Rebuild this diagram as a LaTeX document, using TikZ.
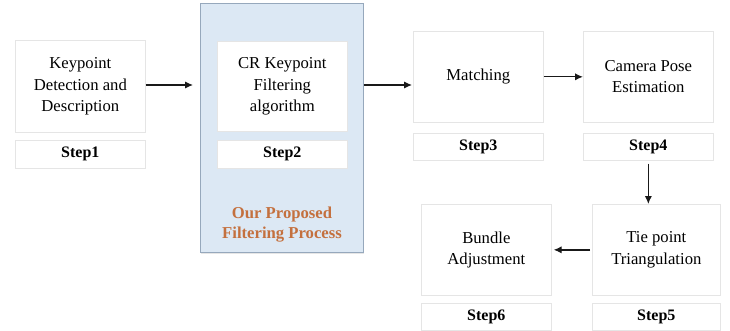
\documentclass[tikz,border=0pt]{standalone}
\usepackage{fontspec}
\setmainfont{Liberation Serif}
\usetikzlibrary{arrows.meta,shadows}
\definecolor{procfill}{RGB}{220,232,244}
\definecolor{procedge}{RGB}{150,168,188}
\definecolor{procText}{RGB}{196,112,62}
\tikzset{
  card/.style={draw=black!10, fill=white, line width=0.5pt,
    drop shadow={shadow xshift=0.6pt, shadow yshift=-0.8pt, opacity=0.25, fill=black!40}},
  stagebox/.style={card, anchor=north west, align=center,
    font=\fontsize{12.5}{16}\selectfont, inner sep=0pt},
  steplabel/.style={card, anchor=north west, align=center,
    font=\fontsize{12}{14}\selectfont\bfseries, inner sep=0pt},
  flow/.style={-{Latex[length=6pt,width=5.5pt]}, line width=1pt, black!90}
}
\begin{document}
\begin{tikzpicture}[x=0.75pt,y=-0.75pt]
\useasboundingbox (0,0) rectangle (730,331);

% highlighted filtering stage
\node[draw=procedge, fill=procfill, line width=0.7pt, anchor=north west,
  minimum width=163*0.75pt, minimum height=249*0.75pt, inner sep=0pt,
  drop shadow={shadow xshift=0.6pt, shadow yshift=-0.8pt, opacity=0.2}] (proc) at (200,3) {};
\node[text=procText, font=\fontsize{12.5}{15}\selectfont\bfseries, align=center]
  (proctxt) at (282,225) {Our Proposed\\Filtering Process};

% stage boxes
\node[stagebox, minimum width=130*0.75pt, minimum height=92*0.75pt] (s1) at (15,40)
  {Keypoint\\Detection and\\Description};
\node[steplabel, minimum width=130*0.75pt, minimum height=28*0.75pt] (l1) at (15,140) {Step1};

\node[stagebox, minimum width=130*0.75pt, minimum height=90*0.75pt] (s2) at (217,41)
  {CR Keypoint\\Filtering\\algorithm};
\node[steplabel, minimum width=130*0.75pt, minimum height=28*0.75pt] (l2) at (217,140) {Step2};

\node[stagebox, minimum width=130*0.75pt, minimum height=91*0.75pt] (s3) at (413,31)
  {Matching};
\node[steplabel, minimum width=130*0.75pt, minimum height=27*0.75pt] (l3) at (413,133) {Step3};

\node[stagebox, minimum width=130*0.75pt, minimum height=91*0.75pt] (s4) at (583,31)
  {Camera Pose\\Estimation};
\node[steplabel, minimum width=130*0.75pt, minimum height=27*0.75pt] (l4) at (583,133) {Step4};

\node[stagebox, minimum width=128*0.75pt, minimum height=91*0.75pt] (s5) at (592,204)
  {Tie point\\Triangulation};
\node[steplabel, minimum width=128*0.75pt, minimum height=27*0.75pt] (l5) at (592,303) {Step5};

\node[stagebox, minimum width=130*0.75pt, minimum height=91*0.75pt] (s6) at (421,204)
  {Bundle\\Adjustment};
\node[steplabel, minimum width=130*0.75pt, minimum height=27*0.75pt] (l6) at (421,303) {Step6};

% connectors
\coordinate (a1e) at (193,85);
\draw[flow] (s1.east |- a1e) -- (a1e);
\coordinate (a2e) at (412,85);
\draw[flow] (proc.east |- a2e) -- (a2e);
\draw[flow] (s3.east) -- (s4.west);
\draw[flow] ([yshift=-2.25pt]l4.south) -- (s5.north -| l4.south);
\draw[flow] ([xshift=-1.5pt]s5.west) -- ([xshift=1.5pt]s6.east);
\end{tikzpicture}
\end{document}
